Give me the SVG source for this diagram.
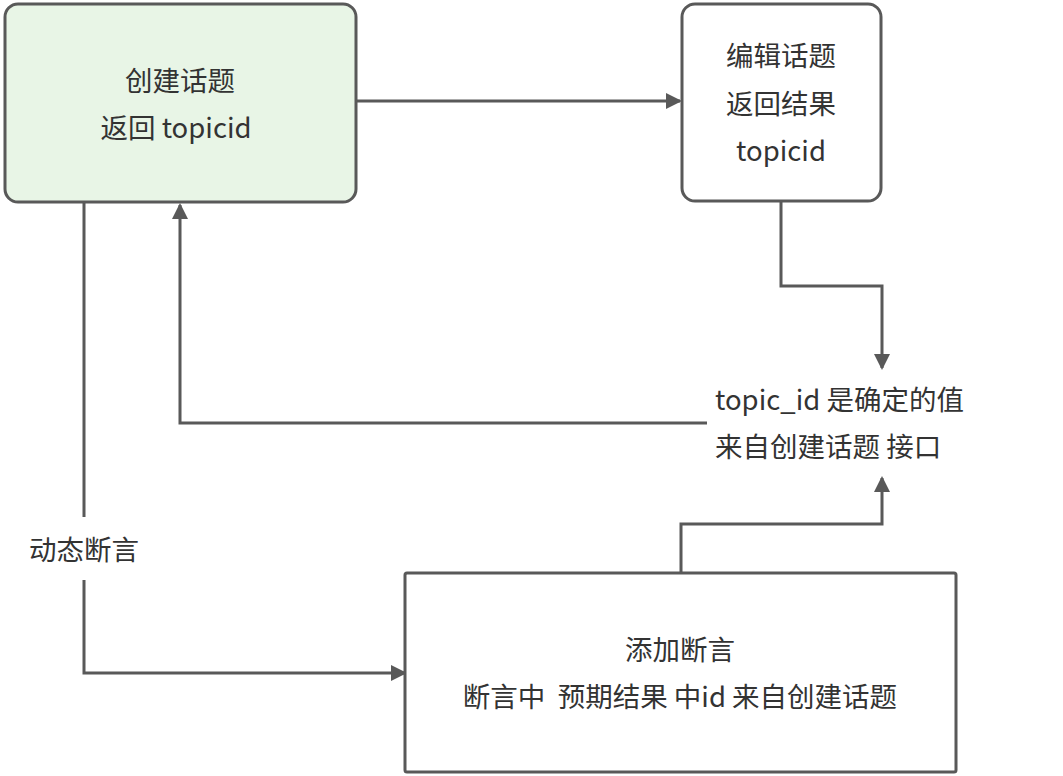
<svg xmlns="http://www.w3.org/2000/svg" width="1063" height="776" viewBox="0 0 1063 776">
<defs>
<marker id="arr" markerWidth="16" markerHeight="16" refX="14" refY="8" orient="auto" markerUnits="userSpaceOnUse">
<path d="M0,0 L16,8 L0,16 Z" fill="#595959"/>
</marker>
<style>
.box{stroke:#595959;stroke-width:3;}
.t{font-family:"Noto Sans CJK SC","Noto Sans",sans-serif;font-size:27.5px;fill:#333333;white-space:pre;}
.c{text-anchor:middle;}
.ln{fill:none;stroke:#595959;stroke-width:3;}
</style>
</defs>
<rect width="1063" height="776" fill="#ffffff"/>
<g id="connectors">
<path class="ln" d="M357,101 L680,101" marker-end="url(#arr)"/>
<path class="ln" d="M781,202 L781,286 L882,286 L882,368" marker-end="url(#arr)"/>
<path class="ln" d="M707,423 L180,423 L180,205" marker-end="url(#arr)"/>
<path class="ln" d="M84,203 L84,517"/>
<path class="ln" d="M84,580 L84,673 L405,673" marker-end="url(#arr)"/>
<path class="ln" d="M681,572 L681,524 L882,524 L882,478" marker-end="url(#arr)"/>
<text class="t c" x="84" y="560">动态断言</text>
</g>
<g id="node-create">
<rect class="box" x="5" y="4" width="351" height="198" rx="13" fill="#e8f5e6"/>
<text class="t c" x="180" y="91">创建话题</text>
<text class="t c" x="176" y="138">返回 topicid</text>
</g>
<g id="node-edit">
<rect class="box" x="682" y="4" width="199" height="197" rx="13" fill="#ffffff"/>
<text class="t c" x="781" y="66">编辑话题</text>
<text class="t c" x="781" y="114">返回结果</text>
<text class="t c" x="781" y="161">topicid</text>
</g>
<g id="node-note">
<text class="t" x="715" y="410">topic_id 是确定的值</text>
<text class="t" x="715" y="457">来自创建话题 接口</text>
</g>
<g id="node-assert">
<rect class="box" x="405" y="573" width="551" height="199" rx="2" fill="#ffffff"/>
<text class="t c" x="680" y="660">添加断言</text>
<text class="t c" x="680" y="707" xml:space="preserve">断言中  预期结果 中id 来自创建话题</text>
</g>
</svg>
